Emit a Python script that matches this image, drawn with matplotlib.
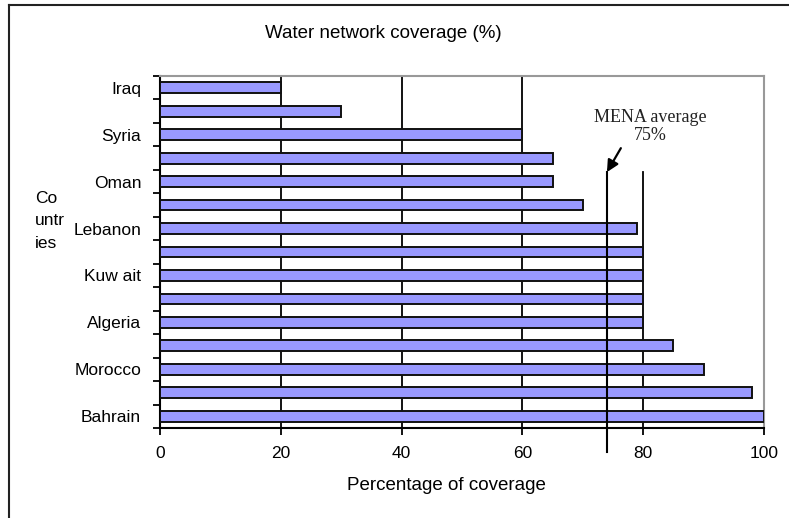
import matplotlib
matplotlib.use("Agg")
import matplotlib.pyplot as plt
import numpy as np
from matplotlib.lines import Line2D

# ---- data ----
tick_labels = ["Iraq", "", "Syria", "", "Oman", "", "Lebanon", "",
               "Kuw ait", "", "Algeria", "", "Morocco", "", "Bahrain"]
coverage = [20, 30, 60, 65, 65, 70, 79, 80, 80, 80, 80, 85, 90, 98, 100]
x_ticks = [0, 20, 40, 60, 80, 100]
mena_average = 74
mena_text = "MENA average\n75%"

plt.rcParams['font.family'] = ['Liberation Sans', 'DejaVu Sans']

fig = plt.figure(figsize=(7.89, 5.18), dpi=100)
ax = fig.add_axes([160/789, 1-428/518, (764-160)/789, (428-76)/518])

y = np.arange(len(coverage))
ax.barh(y, coverage, height=0.46, color="#9999FF", edgecolor="#111111",
        linewidth=1.4, zorder=3)

ax.set_ylim(len(coverage)-0.5, -0.5)
ax.set_xlim(0, 100)

# gridlines
for g in x_ticks[1:4]:
    ax.axvline(g, color="black", linewidth=1.3, zorder=1)
ax.axvline(80, ymax=0.727, color="black", linewidth=1.3, zorder=1)

# MENA average line
ax.axvline(mena_average, ymin=-0.068, ymax=0.727, color="black",
           linewidth=1.5, zorder=4, clip_on=False)
ax.annotate("", xy=(mena_average, 0.727), xytext=(76.3, 0.795),
            xycoords=("data", "axes fraction"),
            textcoords=("data", "axes fraction"),
            arrowprops=dict(arrowstyle="-|>,head_length=0.7,head_width=0.35",
                            color="black", lw=1.6, shrinkA=0, shrinkB=0))
ax.text(81.1, 0.856, mena_text, transform=ax.get_xaxis_transform(),
        ha="center", va="center", fontsize=13, linespacing=1.1,
        family=["Liberation Serif", "DejaVu Serif"], color="#222222")

# spines
for s in ["top", "right"]:
    ax.spines[s].set_color("#999999")
    ax.spines[s].set_linewidth(1.5)
for s in ["left", "bottom"]:
    ax.spines[s].set_color("black")
    ax.spines[s].set_linewidth(1.5)

ax.set_xticks(x_ticks)
ax.set_xticklabels([str(t) for t in x_ticks], fontsize=12.5)
ax.set_yticks(np.arange(-0.5, len(coverage), 1.0), minor=False)
ax.set_yticklabels([])
ax.set_yticks(y, minor=True)
ax.set_yticklabels(tick_labels, minor=True, fontsize=12.5)
ax.tick_params(axis="y", which="major", length=5, width=1.3, direction="out")
ax.tick_params(axis="y", which="minor", length=0, pad=13.5)
ax.tick_params(axis="x", length=5, width=1.3, pad=8)

fig.text(383/789, 1-33/518, "Water network coverage (%)", ha="center",
         va="center", fontsize=13.5)
fig.text(446/789, 1-486/518, "Percentage of coverage", ha="center",
         va="center", fontsize=13.5)
fig.text(35/789, 1-221/518, "Co\nuntr\nies", ha="left", va="center",
         fontsize=12.5, linespacing=1.62)

# outer frame lines
fig.add_artist(Line2D([9/789, 9/789], [0, 1-5/518], color="#222222",
                      linewidth=1.5, transform=fig.transFigure))
fig.add_artist(Line2D([9/789, 1], [1-5/518, 1-5/518], color="#222222",
                      linewidth=1.5, transform=fig.transFigure))

fig.savefig("out.png", dpi=100)
